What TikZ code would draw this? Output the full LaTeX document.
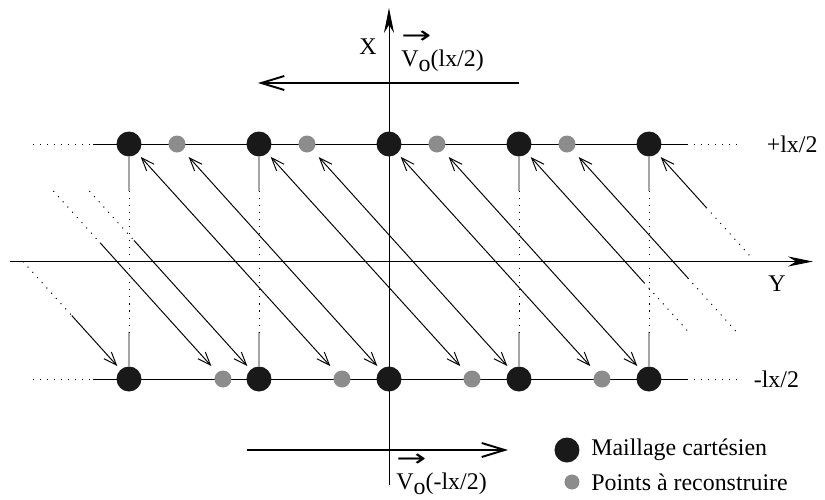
\documentclass[tikz,border=0pt]{standalone}
\usepackage{fontspec}
\setmainfont{Liberation Serif}
\newfontfamily\arrowfont{DejaVu Sans}
\usetikzlibrary{arrows.meta,calc,positioning}
\newcommand{\Vo}{V\raisebox{-0.22em}{o}}
\newcommand{\vecarrow}{\scalebox{1.5}[1]{\arrowfont →}}
\tikzset{
  every node/.style={font=\fontsize{13.6}{16}\selectfont},
  mesh/.style={circle,fill=black!90,minimum size=0.5cm,inner sep=0pt},
  recon/.style={circle,fill=black!45,minimum size=0.34cm,inner sep=0pt},
  dots/.style={dash pattern=on 0.6pt off 3.4pt},
  mg/.style={shorten <=0.09cm,shorten >=0.17cm},
  gm/.style={shorten <=0.17cm,shorten >=0.09cm},
  speed/.style={line width=1.1pt,-{Straight Barb[length=0.46cm,width=0.28cm]}},
  axis/.style={-{Stealth[length=0.5cm,width=0.2cm]}}
}
\begin{document}
\begin{tikzpicture}[line width=0.55pt,
  >={Straight Barb[length=0.26cm,width=0.2cm]}]
\useasboundingbox (-7.78,-4.75) rectangle (8.72,5.23);
% axes and the two rows
\draw[axis] (0,-4.47) -- (0,5.07);
\draw[axis] (-7.58,0) -- (8.48,0);
\foreach \y in {2.35,-2.35} {
  \draw[dots] (-7.12,\y) -- (-5.92,\y);
  \draw (-5.92,\y) -- (5.96,\y);
  \draw[dots] (5.96,\y) -- (7.08,\y);
}
\node at (-0.42,4.29) {X};
\node at (7.76,-0.44) {Y};
\node[anchor=west] (lp) at (7.43,2.35) {+lx/2};
\node[anchor=west] (lm) at (7.17,-2.35) {-lx/2};
% velocities
\draw[speed] (2.6,3.57) -- (-2.62,3.57);
\draw[speed] (-2.84,-3.77) -- (2.38,-3.77);
\node[anchor=south west,inner sep=0pt,align=left] (vt) at (0.24,3.79) {\vecarrow\\[-3pt]\Vo(lx/2)};
\node[anchor=south west,inner sep=0pt,align=left] (vb) at (0.14,-4.67) {\vecarrow\\[-3pt]\Vo(-lx/2)};
% cartesian mesh
\node[mesh] (t1) at (-5.2,2.35) {};
\node[mesh] (t2) at (-2.6,2.35) {};
\node[mesh] (t3) at (0,2.35) {};
\node[mesh] (t4) at (2.6,2.35) {};
\node[mesh] (t5) at (5.2,2.35) {};
\node[mesh] (b1) at (-5.2,-2.35) {};
\node[mesh] (b2) at (-2.6,-2.35) {};
\node[mesh] (b3) at (0,-2.35) {};
\node[mesh] (b4) at (2.6,-2.35) {};
\node[mesh] (b5) at (5.2,-2.35) {};
% points to rebuild
\node[recon] (tp1) at (-4.24,2.35) {};
\node[recon] (tp2) at (-1.64,2.35) {};
\node[recon] (tp3) at (0.96,2.35) {};
\node[recon] (tp4) at (3.56,2.35) {};
\node[recon] (bp1) at (-3.32,-2.35) {};
\node[recon] (bp2) at (-0.94,-2.35) {};
\node[recon] (bp3) at (1.66,-2.35) {};
\node[recon] (bp4) at (4.26,-2.35) {};
% feet outside the picture
\coordinate (g1) at (-9.44,2.35);
\coordinate (g2) at (-7.56,2.35);
\coordinate (g3) at (-6.84,2.35);
\coordinate (g4) at (6.84,-2.35);
\coordinate (g5) at (7.8,-2.35);
\coordinate (g6) at (9.44,-2.35);
\foreach \i in {1,2,4,5} {
  \draw (t\i) -- ($(t\i)!.2!(b\i)$);
  \draw[dots] ($(t\i)!.2!(b\i)$) -- ($(t\i)!.8!(b\i)$);
  \draw ($(t\i)!.8!(b\i)$) -- (b\i);
}
\draw[<->,mg] (t1) -- (bp2);
\draw[<->,gm] (tp1) -- (b3);
\draw[<->,mg] (t2) -- (bp3);
\draw[<->,gm] (tp2) -- (b4);
\draw[<->,mg] (t3) -- (bp4);
\draw[<->,gm] (tp3) -- (b5);
\draw[<-,shorten <=0.09cm] (t4) -- ($(t4)!.59!(g4)$);
\draw[dots] ($(t4)!.59!(g4)$) -- ($(t4)!.8!(g4)$);
\draw[<-,shorten <=0.17cm] (tp4) -- ($(tp4)!.57!(g5)$);
\draw[dots] ($(tp4)!.57!(g5)$) -- ($(tp4)!.8!(g5)$);
\draw[<-,shorten <=0.09cm] (t5) -- ($(t5)!.27!(g6)$);
\draw[dots] ($(t5)!.27!(g6)$) -- ($(t5)!.48!(g6)$);
\draw[dots] ($(g1)!.5!(b1)$) -- ($(g1)!.73!(b1)$);
\draw[->,shorten >=0.09cm] ($(g1)!.73!(b1)$) -- (b1);
\draw[dots] ($(g2)!.2!(bp1)$) -- ($(g2)!.42!(bp1)$);
\draw[->,shorten >=0.17cm] ($(g2)!.42!(bp1)$) -- (bp1);
\draw[dots] ($(g3)!.2!(b2)$) -- ($(g3)!.41!(b2)$);
\draw[->,shorten >=0.09cm] ($(g3)!.41!(b2)$) -- (b2);
% legend
\node[mesh] (lk1) at (3.56,-3.77) {};
\node[right=0.1cm of lk1] (lt1) {Maillage cartésien};
\node[recon,minimum size=0.3cm] (lk2) at (3.66,-4.41) {};
\node[right=0.1cm of lk2] (lt2) {Points à reconstruire};
\end{tikzpicture}
\end{document}
